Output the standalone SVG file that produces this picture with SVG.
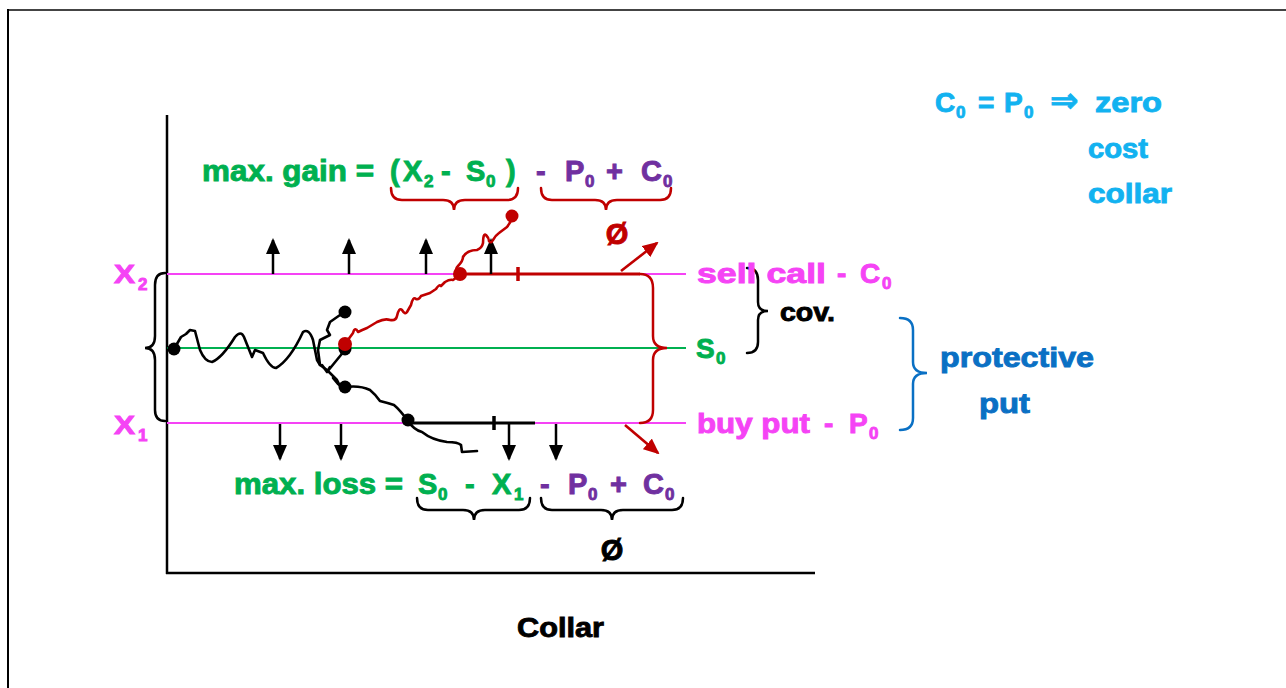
<svg xmlns="http://www.w3.org/2000/svg" width="1286" height="688" viewBox="0 0 1286 688">
<style>
text{font-family:"Liberation Sans","DejaVu Sans",sans-serif;font-weight:bold;stroke-width:0.9;paint-order:stroke}
.g{fill:#00b050;stroke:#00b050}.p{fill:#7030a0;stroke:#7030a0}.m{fill:#f543f5;stroke:#f543f5}.k{fill:#000;stroke:#000}.c{fill:#12b2f0;stroke:#12b2f0}.b{fill:#0a70c4;stroke:#0a70c4}.r{fill:#c00000;stroke:#c00000}
.sub{font-size:17px}
.wk{fill:none;stroke:#000;stroke-width:2.6;stroke-linejoin:round;stroke-linecap:round}
.wr{fill:none;stroke:#c00000;stroke-width:2.6;stroke-linejoin:round;stroke-linecap:round}
.br{fill:none;stroke-width:2.5;stroke-linecap:round}
.ab{stroke:#000;stroke-width:2.5}
</style>
<defs>
<marker id="ak" markerWidth="16" markerHeight="14" refX="14" refY="7" orient="auto" markerUnits="userSpaceOnUse"><path d="M0,0 L16,7 L0,14 Z" fill="#000"/></marker>
<marker id="ar" markerWidth="16" markerHeight="14" refX="14" refY="7" orient="auto" markerUnits="userSpaceOnUse"><path d="M0,0 L16,7 L0,14 Z" fill="#c00000"/></marker>
</defs>
<rect width="1286" height="688" fill="#fff"/>
<g id="frame">
<line x1="7" y1="10" x2="1286" y2="10" stroke="#444" stroke-width="2"/>
<line x1="8" y1="9" x2="8" y2="688" stroke="#000" stroke-width="2"/>
</g>
<g id="axes">
<line x1="167" y1="115" x2="167" y2="574" stroke="#000" stroke-width="2.5"/>
<line x1="166" y1="573" x2="815" y2="573" stroke="#000" stroke-width="2.5"/>
</g>
<g id="levels">
<line x1="167" y1="274" x2="686" y2="274" stroke="#f543f5" stroke-width="2.2"/>
<line x1="167" y1="348" x2="686" y2="348" stroke="#00b050" stroke-width="2.2"/>
<line x1="167" y1="423" x2="686" y2="423" stroke="#f543f5" stroke-width="2.2"/>
<line x1="460" y1="274" x2="640" y2="274" stroke="#c00000" stroke-width="3.2"/>
<line x1="518" y1="267" x2="518" y2="281" stroke="#c00000" stroke-width="3.5"/>
<line x1="408" y1="423" x2="535" y2="423" stroke="#000" stroke-width="3.2"/>
<line x1="494" y1="416" x2="494" y2="430" stroke="#000" stroke-width="3.5"/>
</g>
<g id="connectors">
<line class="ab" x1="273" y1="274" x2="273" y2="240" marker-end="url(#ak)"/>
<line class="ab" x1="349" y1="274" x2="349" y2="240" marker-end="url(#ak)"/>
<line class="ab" x1="426" y1="274" x2="426" y2="240" marker-end="url(#ak)"/>
<line class="ab" x1="491" y1="274" x2="491" y2="240" marker-end="url(#ak)"/>
<line class="ab" x1="280" y1="424" x2="280" y2="459" marker-end="url(#ak)"/>
<line class="ab" x1="341" y1="424" x2="341" y2="459" marker-end="url(#ak)"/>
<line class="ab" x1="509" y1="424" x2="509" y2="459" marker-end="url(#ak)"/>
<line class="ab" x1="556" y1="424" x2="556" y2="459" marker-end="url(#ak)"/>
<line x1="621" y1="271" x2="657" y2="243" stroke="#c00000" stroke-width="2.6" marker-end="url(#ar)"/>
<line x1="625" y1="425" x2="658" y2="453" stroke="#c00000" stroke-width="2.6" marker-end="url(#ar)"/>
</g>
<g id="black-walk">
<path class="wk" d="M174,349 L181,337 L186,334 L190,330 L195,331 L200,350 Q205,362 212,362 Q222,358 235,337 Q241,330 244,337 L248,347 L252,357 L255,350 L263,353 Q270,368 276,368 Q290,360 303,332 Q309,328 313,340 L317,360 L320,365 L327,370 L333,376 L337,380 L340,386"/>
<path class="wk" d="M345,312 L340,315 L330,322 L327,330 L330,335 L320,340 L318,350 L320,365"/>
<path class="wk" d="M345,350 L327,372 M322,365 L327,372 L330,367"/>
<path class="wk" d="M333,378 L338,384 L345,387 Q360,385 370,390 Q376,395 380,401 Q388,403 394,405 Q400,410 408,421 Q414,430 422,432 Q432,440 447,442 Q458,442 461,445 L462,452 L477,451"/>
<circle cx="174" cy="349" r="6.5" fill="#000"/>
<circle cx="345" cy="312" r="6.5" fill="#000"/>
<circle cx="345" cy="349" r="6.5" fill="#000"/>
<circle cx="345" cy="387" r="6.5" fill="#000"/>
<circle cx="408" cy="420" r="6.5" fill="#000"/>
</g>
<g id="red-walk">
<path class="wr" d="M345,344 L353,333 Q355,326 358,332 Q362,330 367,328 L377,322 Q385,318 390,320 Q396,321 397,316 Q399,307 402,310 Q405,315 407,312 L411,305 Q413,296 416,299 Q419,300 421,296 L430,293 L436,289 Q439,284 441,286 L445,282 Q450,279 453,280 L460,275 Q453,271 458,266 Q463,261 463,257 Q467,250 477,250 Q482,248 483,243 Q483,233 486,235 Q489,238 489,241 Q491,244 493,240 Q496,235 499,233 L507,227 Q511,222 512,217"/>
<circle cx="345" cy="344" r="7" fill="#c00000"/>
<circle cx="460" cy="274" r="7" fill="#c00000"/>
<circle cx="512" cy="216" r="6.5" fill="#c00000"/>
</g>
<g id="braces">
<path class="br" stroke="#000" d="M165,273 Q155,273 155,285 L155,336 Q155,348 145,348 Q155,348 155,360 L155,410 Q155,421 165,421"/>
<path class="br" stroke="#c00000" d="M640,274 Q653,274 653,288 L653,336 Q653,348 667,348 Q653,348 653,360 L653,410 Q653,423 640,423"/>
<path class="br" stroke="#000" d="M747,268 Q758,268 758,280 L758,302 Q758,311 768,311 Q758,311 758,320 L758,342 Q758,353 747,353"/>
<path class="br" stroke="#0a70c4" d="M900,318 Q913,318 913,330 L913,362 Q913,373 927,373 Q913,373 913,384 L913,418 Q913,430 900,430"/>
<path class="br" stroke="#c00000" d="M391,188 Q391,200 402,200 L443,200 Q454,200 454,210 Q454,200 465,200 L507,200 Q518,200 518,188"/>
<path class="br" stroke="#c00000" d="M541,188 Q541,200 552,200 L595,200 Q606,200 606,210 Q606,200 617,200 L660,200 Q671,200 671,188"/>
<path class="br" stroke="#000" d="M417,498 Q417,510 428,510 L463,510 Q474,510 474,520 Q474,510 485,510 L519,510 Q530,510 530,498"/>
<path class="br" stroke="#000" d="M541,498 Q541,510 552,510 L601,510 Q612,510 612,520 Q612,510 623,510 L672,510 Q683,510 683,498"/>
</g>
<g id="gain-text" font-size="29">
<text x="202" y="181" class="g" textLength="172" lengthAdjust="spacingAndGlyphs">max. gain =</text>
<text x="390" y="181" class="g">(</text>
<text x="403" y="181" class="g">X</text>
<text x="424" y="187" class="g sub">2</text>
<text x="441" y="181" class="g">-</text>
<text x="466" y="181" class="g">S</text>
<text x="486" y="187" class="g sub">0</text>
<text x="506" y="181" class="g">)</text>
<text x="536" y="181" class="p">-</text>
<text x="565" y="181" class="p">P</text>
<text x="585" y="187" class="p sub">0</text>
<text x="606" y="181" class="p">+</text>
<text x="641" y="181" class="p">C</text>
<text x="663" y="187" class="p sub">0</text>
<text x="617" y="244" class="r" font-size="29" text-anchor="middle">Ø</text>
</g>
<g id="loss-text" font-size="29">
<text x="234" y="494" class="g" textLength="169" lengthAdjust="spacingAndGlyphs">max. loss =</text>
<text x="418" y="494" class="g">S</text>
<text x="438" y="500" class="g sub">0</text>
<text x="465" y="494" class="g">-</text>
<text x="492" y="494" class="g">X</text>
<text x="514" y="500" class="g sub">1</text>
<text x="540" y="494" class="p">-</text>
<text x="568" y="494" class="p">P</text>
<text x="588" y="500" class="p sub">0</text>
<text x="610" y="494" class="p">+</text>
<text x="643" y="494" class="p">C</text>
<text x="665" y="500" class="p sub">0</text>
<text x="612" y="560" class="k" font-size="29" text-anchor="middle">Ø</text>
</g>
<g id="x2-label"><text x="114" y="283" class="m" font-size="26" textLength="21" lengthAdjust="spacingAndGlyphs">X</text><text x="138" y="290" class="m sub">2</text></g>
<g id="x1-label"><text x="114" y="434" class="m" font-size="26" textLength="21" lengthAdjust="spacingAndGlyphs">X</text><text x="138" y="441" class="m sub">1</text></g>
<g id="sell-call" font-size="28">
<text x="697" y="283" class="m" textLength="129" lengthAdjust="spacingAndGlyphs">sell call</text>
<text x="837" y="283" class="m">-</text>
<text x="860" y="283" class="m">C</text>
<text x="882" y="289" class="m sub">0</text>
</g>
<g id="s0"><text x="696" y="358" class="g" font-size="28">S</text><text x="716" y="364" class="g sub">0</text></g>
<g id="buy-put" font-size="28">
<text x="697" y="433" class="m" textLength="113" lengthAdjust="spacingAndGlyphs">buy put</text>
<text x="824" y="433" class="m">-</text>
<text x="849" y="433" class="m">P</text>
<text x="869" y="439" class="m sub">0</text>
</g>
<g id="cov"><text x="780" y="321" class="k" font-size="26" textLength="55" lengthAdjust="spacingAndGlyphs">cov.</text></g>
<g id="protective-put" font-size="28">
<text x="940" y="367" class="b" textLength="154" lengthAdjust="spacingAndGlyphs">protective</text>
<text x="979" y="413" class="b" textLength="51" lengthAdjust="spacingAndGlyphs">put</text>
</g>
<g id="zero-cost" font-size="28">
<text x="935" y="112" class="c">C</text>
<text x="956" y="118" class="c sub">0</text>
<text x="978" y="112" class="c">=</text>
<text x="1004" y="112" class="c">P</text>
<text x="1024" y="118" class="c sub">0</text>
<text x="1050" y="112" class="c" font-size="34" stroke-width="0.6" style="font-family:'DejaVu Sans',sans-serif">⇒</text>
<text x="1095" y="112" class="c" textLength="67" lengthAdjust="spacingAndGlyphs">zero</text>
<text x="1088" y="158" class="c" textLength="60" lengthAdjust="spacingAndGlyphs">cost</text>
<text x="1088" y="203" class="c" textLength="84" lengthAdjust="spacingAndGlyphs">collar</text>
</g>
<g id="title"><text x="517" y="637" class="k" font-size="28" textLength="87" lengthAdjust="spacingAndGlyphs">Collar</text></g>
</svg>
